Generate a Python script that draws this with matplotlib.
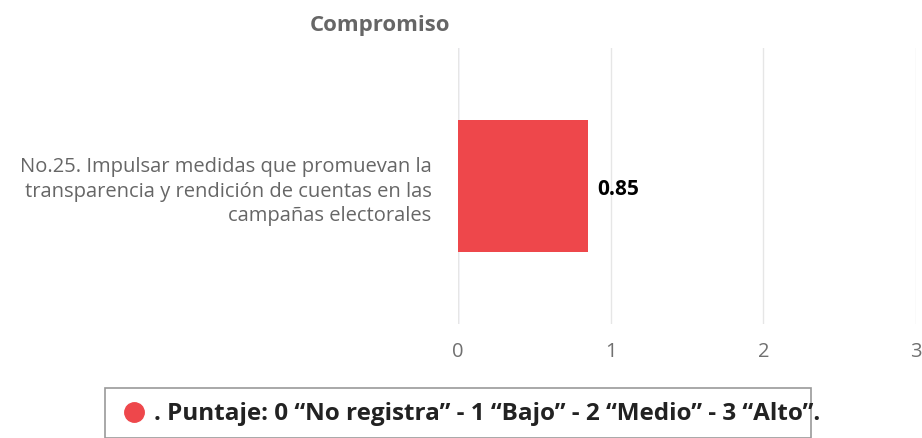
import matplotlib
matplotlib.use("Agg")
import matplotlib.pyplot as plt
from matplotlib.patches import Rectangle
from matplotlib.lines import Line2D

plt.rcParams['font.family'] = ['Open Sans', 'DejaVu Sans']

categories = ["No.25. Impulsar medidas que promuevan la\ntransparencia y rendición de cuentas en las\ncampañas electorales"]
values = [0.85]
xticks = [0, 1, 2, 3]
title = "Compromiso"
legend_text = ". Puntaje: 0 “No registra” - 1 “Bajo” - 2 “Medio” - 3 “Alto”."
bar_color = "#ee474b"

W, H = 922, 439
fig = plt.figure(figsize=(W / 100, H / 100), dpi=100)
ax = fig.add_axes([458 / W, 1 - 325 / H, (916 - 458) / W, (325 - 49) / H])

ax.barh(range(len(categories)), values, height=0.475, color=bar_color, zorder=3)
ax.set_xlim(0, 3)
ax.set_ylim(-0.5, 0.5)
ax.set_xticks(xticks)
ax.set_xticklabels([str(t) for t in xticks], fontsize=14.5, color="#707070")
ax.tick_params(axis='x', length=0, pad=12)
ax.set_yticks(range(len(categories)))
ax.set_yticklabels(categories, fontsize=14.5, color="#666666", linespacing=1.3)
ax.tick_params(axis='y', length=0, pad=19)
for lbl in ax.get_yticklabels():
    lbl.set_horizontalalignment('right')
    lbl.set_multialignment('right')
for s in ax.spines.values():
    s.set_visible(False)
ax.grid(axis='x', color="#e6e6e6", linewidth=1, zorder=0)
ax.axvline(0, color="#ccd6eb", linewidth=1, zorder=1)

for i, v in enumerate(values):
    ax.annotate(f"{v:.2f}", (v, i), xytext=(7, -2), textcoords='offset points',
                va='center', ha='left', fontsize=15, fontweight='bold', color='#000000')

fig.text(380 / W, 1 - 25 / H, title, ha='center', va='center', fontsize=16,
         fontweight='bold', color='#666666')

# legend box
box = Rectangle((105 / W, 0), (811 - 105) / W, (439 - 389) / H, transform=fig.transFigure,
                facecolor='white', edgecolor='#999999', linewidth=1.2)
fig.patches.append(box)
fig.add_artist(Line2D([134 / W], [1 - 413 / H], marker='o', markersize=14,
                      color=bar_color, transform=fig.transFigure))
fig.text(154 / W, 1 - 414 / H, legend_text, ha='left', va='center', fontsize=17.5,
         fontweight='bold', color='#222222')

fig.savefig("out.png", dpi=100, facecolor='white')
